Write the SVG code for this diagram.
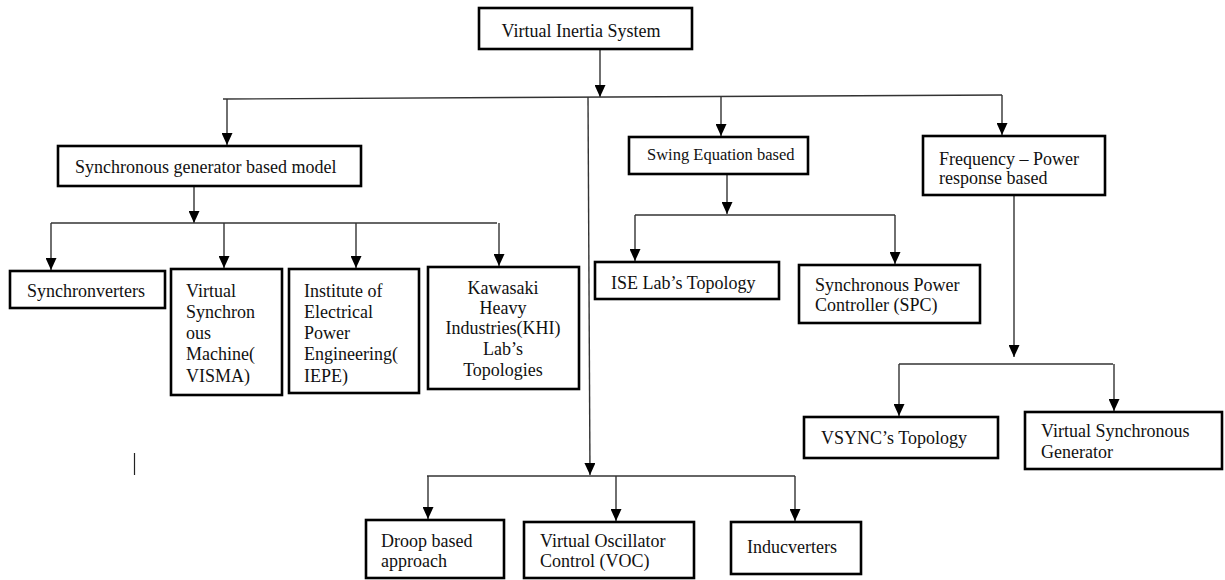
<svg xmlns="http://www.w3.org/2000/svg" width="1225" height="580" viewBox="0 0 1225 580">
  <style>
    .box { fill: #ffffff; stroke: #000000; stroke-width: 2.6; }
    .lbl { font-family: "Liberation Serif", "Times New Roman", serif; font-size: 18px; fill: #111111; }
    .sm { font-size: 16.5px; }
    .mid { text-anchor: middle; }
    .wire { fill: none; stroke: #333333; stroke-width: 1.4; }
    .arr { marker-end: url(#head); }
  </style>
  <defs>
    <marker id="head" markerUnits="userSpaceOnUse" markerWidth="13" markerHeight="11" refX="12" refY="5.5" orient="auto">
      <path d="M0,0 L12,5.5 L0,11 z" fill="#000000"/>
    </marker>
  </defs>

  <rect width="1225" height="580" fill="#ffffff"/>

  <!-- connectors -->
  <g id="connectors">
    <!-- root to main bus -->
    <path class="wire arr" d="M600,50 L600,97"/>
    <path class="wire" d="M223,99 L1002,95"/>
    <path class="wire arr" d="M227,99 L227,145"/>
    <path class="wire arr" d="M721,96.4 L721,136"/>
    <path class="wire arr" d="M1002,95 L1002,135"/>
    <!-- central trunk to lower group -->
    <path class="wire arr" d="M588,97 L590,475"/>

    <!-- synchronous generator branch -->
    <path class="wire arr" d="M194,187 L194,223"/>
    <path class="wire" d="M51,223 L497,223"/>
    <path class="wire arr" d="M51,223 L51,270"/>
    <path class="wire arr" d="M224,223 L224,268"/>
    <path class="wire arr" d="M356,223 L356,268"/>
    <path class="wire arr" d="M499,223 L499,266"/>

    <!-- swing equation branch -->
    <path class="wire arr" d="M727,175 L727,214"/>
    <path class="wire" d="M635,215 L895,215"/>
    <path class="wire arr" d="M635,215 L635,261"/>
    <path class="wire arr" d="M895,215 L895,264"/>

    <!-- frequency-power branch -->
    <path class="wire arr" d="M1014,196 L1014,357"/>
    <path class="wire" d="M899,364 L1113,364"/>
    <path class="wire arr" d="M899,364 L899,416"/>
    <path class="wire arr" d="M1114,364 L1114,411"/>

    <!-- lower group -->
    <path class="wire" d="M427,476 L795,476"/>
    <path class="wire arr" d="M428,476 L428,519"/>
    <path class="wire arr" d="M616,476 L616,521"/>
    <path class="wire arr" d="M795,476 L795,521"/>
  </g>

  <!-- stray vertical mark -->
  <line x1="134.5" y1="453" x2="134.5" y2="475" stroke="#222222" stroke-width="1.2"/>

  <g id="root">
    <rect class="box" x="479" y="8" width="213" height="41"/>
    <text class="lbl mid" x="581" y="37">Virtual Inertia System</text>
  </g>

  <g id="sg-model">
    <rect class="box" x="58" y="146" width="303" height="40"/>
    <text class="lbl" x="75" y="173">Synchronous generator based model</text>
  </g>

  <g id="swing">
    <rect class="box" x="629" y="137" width="179" height="37"/>
    <text class="lbl sm" x="647" y="160">Swing Equation based</text>
  </g>

  <g id="freq-power">
    <rect class="box" x="923" y="136" width="182" height="59"/>
    <text class="lbl" x="939" y="165">Frequency – Power</text>
    <text class="lbl" x="939" y="184">response based</text>
  </g>

  <g id="synchronverters">
    <rect class="box" x="10" y="271" width="155" height="37"/>
    <text class="lbl" x="27" y="297">Synchronverters</text>
  </g>

  <g id="visma">
    <rect class="box" x="171" y="269" width="111" height="126"/>
    <text class="lbl" x="186" y="297">Virtual</text>
    <text class="lbl" x="186" y="318">Synchron</text>
    <text class="lbl" x="186" y="339">ous</text>
    <text class="lbl" x="186" y="360">Machine(</text>
    <text class="lbl" x="186" y="382">VISMA)</text>
  </g>

  <g id="iepe">
    <rect class="box" x="289" y="269" width="130" height="124"/>
    <text class="lbl" x="304" y="297">Institute of</text>
    <text class="lbl" x="304" y="318">Electrical</text>
    <text class="lbl" x="304" y="339">Power</text>
    <text class="lbl" x="304" y="360">Engineering(</text>
    <text class="lbl" x="304" y="382">IEPE)</text>
  </g>

  <g id="khi">
    <rect class="box" x="428" y="267" width="151" height="122"/>
    <text class="lbl mid" x="503" y="294">Kawasaki</text>
    <text class="lbl mid" x="503" y="314">Heavy</text>
    <text class="lbl mid" x="503" y="334">Industries(KHI)</text>
    <text class="lbl mid" x="503" y="355">Lab’s</text>
    <text class="lbl mid" x="503" y="376">Topologies</text>
  </g>

  <g id="ise">
    <rect class="box" x="595" y="262" width="184" height="37"/>
    <text class="lbl" x="611" y="289">ISE Lab’s Topology</text>
  </g>

  <g id="spc">
    <rect class="box" x="799" y="265" width="181" height="58"/>
    <text class="lbl" x="815" y="291">Synchronous Power</text>
    <text class="lbl" x="815" y="311">Controller (SPC)</text>
  </g>

  <g id="vsync">
    <rect class="box" x="804" y="417" width="194" height="41"/>
    <text class="lbl" x="821" y="444">VSYNC’s Topology</text>
  </g>

  <g id="vsg">
    <rect class="box" x="1025" y="412" width="197" height="57"/>
    <text class="lbl" x="1041" y="437">Virtual Synchronous</text>
    <text class="lbl" x="1041" y="458">Generator</text>
  </g>

  <g id="droop">
    <rect class="box" x="366" y="520" width="138" height="58"/>
    <text class="lbl" x="381" y="547">Droop based</text>
    <text class="lbl" x="381" y="567">approach</text>
  </g>

  <g id="voc">
    <rect class="box" x="524" y="522" width="170" height="56"/>
    <text class="lbl" x="540" y="547">Virtual Oscillator</text>
    <text class="lbl" x="540" y="567">Control (VOC)</text>
  </g>

  <g id="inducverters">
    <rect class="box" x="731" y="522" width="130" height="52"/>
    <text class="lbl" x="747" y="553">Inducverters</text>
  </g>
</svg>
